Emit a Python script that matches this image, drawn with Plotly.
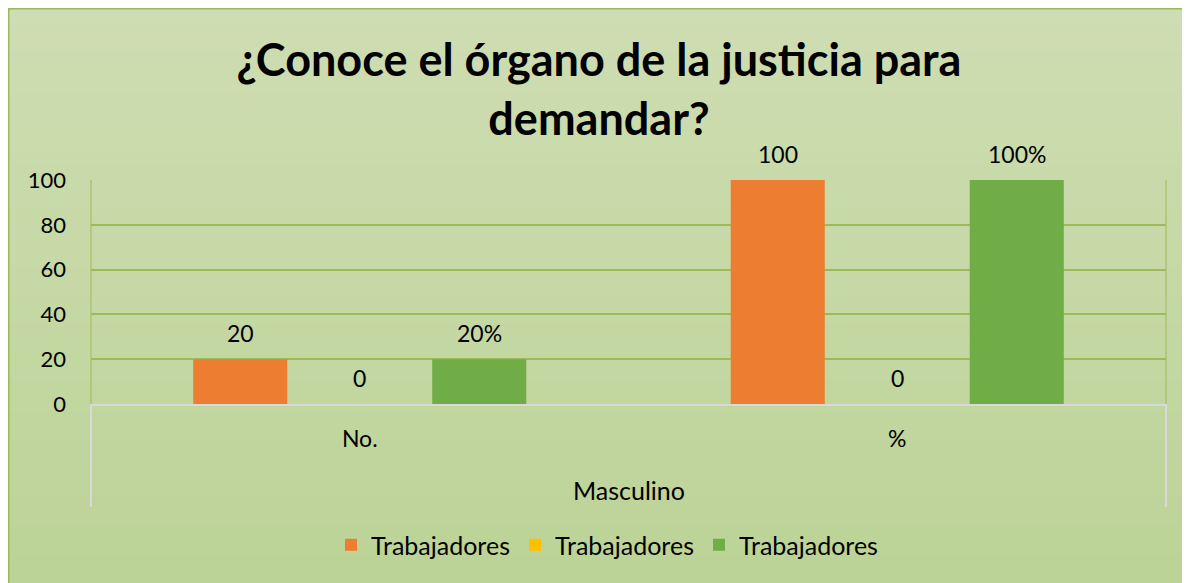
import plotly.graph_objects as go

categories = ["No.", "%"]
group_label = "Masculino"
series_names = ["Trabajadores", "Trabajadores", "Trabajadores"]
orange_vals = [20, 100]
yellow_vals = [0, 0]
green_vals = [20, 100]
orange_labels = ["20", "100"]
yellow_labels = ["0", "0"]
green_labels = ["20%", "100%"]
y_ticks = [0, 20, 40, 60, 80, 100]

colors = ["#ED7D31", "#FFC000", "#70AD47"]
FONT = "Lato"

W, H = 1182, 575
L, R, T, B = 83, 1158, 172, 396
pw, ph = R - L, B - T

def px_x(p):
    return (p - L) / pw

def px_y(p):
    return (B - p) / ph

fig = go.Figure()
all_vals = [orange_vals, yellow_vals, green_vals]
all_labels = [orange_labels, yellow_labels, green_labels]
for name, vals, col in zip(series_names, all_vals, colors):
    fig.add_trace(go.Bar(x=categories, y=vals, name=name, marker_color=col,
                         marker_line_width=0))

bargap = 0.333
bargroupgap = 0.213
slot = (1 - bargap) / 3
annotations = []
for si, labels in enumerate(all_labels):
    off = (si - 1) * slot
    for ci, lab in enumerate(labels):
        annotations.append(dict(x=ci + off, y=all_vals[si][ci], xref="x", yref="y",
                                text=lab, showarrow=False, yshift=26,
                                font=dict(family=FONT, size=23, color="#000000")))

annotations.append(dict(x=0.5, y=px_y(482), xref="paper", yref="paper", text=group_label,
                        showarrow=False, yanchor="middle", xanchor="center",
                        font=dict(family=FONT, size=25, color="#000000")))

shapes = []
n = 40
top_c = (206, 221, 178)
bot_c = (188, 211, 151)
y0p, y1p = 0, H
for i in range(n):
    t = i / (n - 1)
    c = tuple(round(top_c[k] + (bot_c[k] - top_c[k]) * t) for k in range(3))
    ya = y0p + (y1p - y0p) * i / n
    yb = y0p + (y1p - y0p) * (i + 1) / n + 1
    shapes.append(dict(type="rect", xref="paper", yref="paper", layer="below",
                       x0=px_x(0), x1=px_x(W + 5), y0=px_y(yb), y1=px_y(ya),
                       fillcolor="rgb(%d,%d,%d)" % c, line_width=0))
# outer border
shapes.append(dict(type="rect", xref="paper", yref="paper", layer="below",
                   x0=px_x(0.75), x1=px_x(W + 5), y0=px_y(H + 5), y1=px_y(0.75),
                   line=dict(color="#9BBB59", width=1.5), fillcolor="rgba(0,0,0,0)"))
# plot area side lines and category box
for xp in [L, R]:
    shapes.append(dict(type="line", xref="paper", yref="paper", x0=px_x(xp), x1=px_x(xp),
                       y0=0, y1=1, line=dict(color="#9BBB59", width=1)))
    shapes.append(dict(type="line", xref="paper", yref="paper", x0=px_x(xp), x1=px_x(xp),
                       y0=px_y(499), y1=0, line=dict(color="#D9D9D9", width=2)))

fig.update_layout(
    width=W, height=H,
    margin=dict(l=L, r=W - R, t=T, b=H - B),
    paper_bgcolor="white", plot_bgcolor="rgba(0,0,0,0)",
    barmode="group", bargap=bargap, bargroupgap=bargroupgap,
    title=dict(text="¿Conoce el órgano de la justicia para<br>demandar?",
               x=0.5, xref="container", xanchor="center",
               y=1 - 68 / H, yanchor="middle",
               font=dict(family=FONT, size=45, color="#000000", weight="bold")),
    xaxis=dict(type="category", range=[-0.5, 1.5], showgrid=False,
               showline=True, linecolor="#D9D9D9", linewidth=2,
               ticks="", ticklabelstandoff=13,
               tickfont=dict(family=FONT, size=23, color="#000000")),
    yaxis=dict(range=[0, 100], tickvals=y_ticks, showgrid=True, gridcolor="#9BBB59",
               gridwidth=2, zeroline=False, showline=False, ticks="",
               ticklabelstandoff=24,
               tickfont=dict(family=FONT, size=22, color="#000000")),
    legend=dict(orientation="h", x=px_x(599), xanchor="center", y=px_y(537), yanchor="middle",
                font=dict(family=FONT, size=25, color="#000000"), bgcolor="rgba(0,0,0,0)",
                itemwidth=30, traceorder="normal"),
    shapes=shapes, annotations=annotations,
    showlegend=True,
)

fig.write_html("out.html")
